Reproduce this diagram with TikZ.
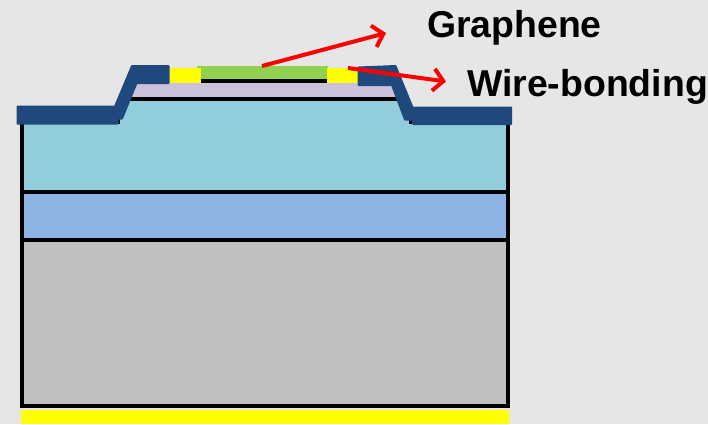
\documentclass[tikz,border=0pt]{standalone}
\usepackage{fontspec}
\setmainfont{Liberation Sans}
\usetikzlibrary{arrows.meta}
\definecolor{bgc}{HTML}{E6E6E6}
\definecolor{tealc}{HTML}{92CDDC}
\definecolor{bluec}{HTML}{8EB4E3}
\definecolor{grayc}{HTML}{BFBFBF}
\definecolor{lavc}{HTML}{CCC1DA}
\definecolor{greenc}{HTML}{92D050}
\definecolor{darkc}{HTML}{1F497D}
\definecolor{yelc}{HTML}{FFFF00}
\definecolor{redc}{HTML}{FF0000}
\tikzset{
  layerline/.style={line width=4pt,black},
  metal/.style={fill=darkc,draw=darkc,line width=2pt,line join=round},
  pointer/.style={redc,line width=4pt,-{Straight Barb[length=10pt,width=22pt,line width=4pt]}},
  callout/.style={font=\bfseries\fontsize{37.4}{37.4}\selectfont,inner sep=0pt,anchor=base west,text=black}
}
\begin{document}
\begin{tikzpicture}[x=1pt,y=-1pt]
\useasboundingbox (0,0) rectangle (708,424);
\fill[bgc] (0,0) rectangle (708,424);
% layers
\fill[grayc] (21,239) rectangle (508,406);
\fill[bluec] (21,191) rectangle (508,239);
\fill[tealc] (21,122) -- (118,122) -- (132,99) -- (396,99) -- (411,122) -- (508,122) -- (508,191) -- (21,191) -- cycle;
\fill[yelc] (21.3,409.5) rectangle (509,424);
\draw[layerline] (21.8,120) -- (21.8,406) -- (507.5,406) -- (507.5,120);
\draw[layerline] (21.8,191.6) -- (507.5,191.6);
\draw[layerline] (21.8,239.6) -- (507.5,239.6);
% top stack
\fill[lavc] (130,83) rectangle (398,98);
\draw[black,line width=3.8pt] (130,99.3) -- (398,99.3);
\fill[black] (197,78.7) rectangle (328,83);
\fill[greenc] (197,66) rectangle (327.7,79);
\fill[yelc] (170,68) rectangle (201,83);
\fill[yelc] (327,68) rectangle (358,83);
\fill[black] (116.7,118) rectangle (120,124);
\fill[black] (409,118) rectangle (412,124);
% metal
\path[metal] (132,66) -- (168.5,66) -- (168.5,83) -- (136.5,83) -- (122,118.5) -- (117.5,118.5) -- (117.5,123.5) -- (17.5,123.5) -- (17.5,106.5) -- (115,106.5) -- cycle;
\path[metal] (358.5,67.5) -- (395.5,66) -- (412.5,107.5) -- (511,107.5) -- (511,124) -- (413,124) -- (413,119.5) -- (405,119.5) -- (392,85) -- (358.5,85) -- cycle;
% labels
\node[callout] (graphene) at (427,37) {Graphene};
\node[callout] (wirebond) at (467,96) {Wire-bonding};
% pointers
\coordinate (g1) at (262,66);
\coordinate (g2) at (386,33);
\coordinate (w1) at (348,68);
\coordinate (w2) at (446,81.5);
\draw[pointer] (g1) -- (g2);
\draw[pointer] (w1) -- (w2);
\end{tikzpicture}
\end{document}
